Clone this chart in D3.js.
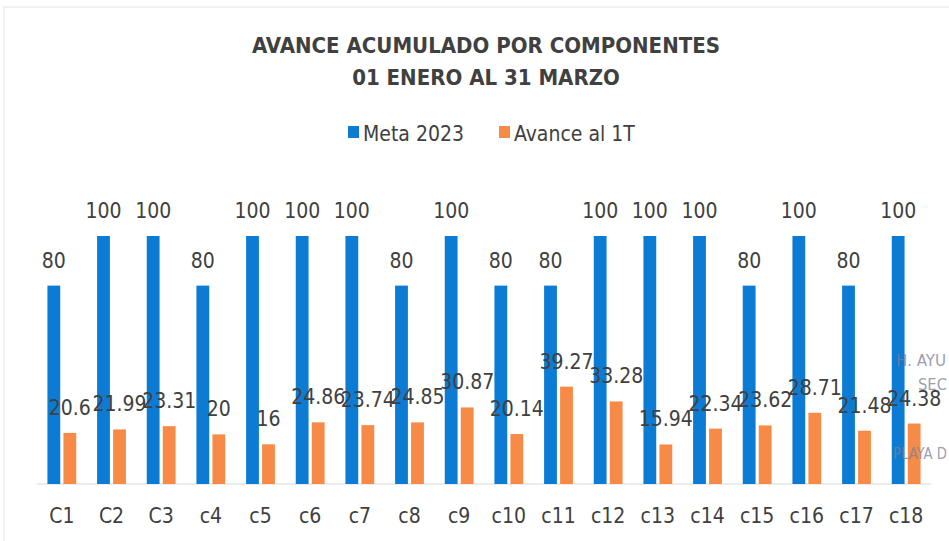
<!DOCTYPE html>
<html>
<head>
<meta charset="utf-8">
<script src="https://cdn.jsdelivr.net/npm/d3@7"></script>
<style>
  body { margin: 0; background: #fff; }
  svg text { font-family: "DejaVu Sans Condensed", "Liberation Sans Narrow", sans-serif; }
</style>
</head>
<body>
<div id="chart"></div>
<script>
// data
var categories = ["C1","C2","C3","c4","c5","c6","c7","c8","c9","c10","c11","c12","c13","c14","c15","c16","c17","c18"]
var meta2023 = [80,100,100,80,100,100,100,80,100,80,80,100,100,100,80,100,80,100]
var avance1T = [20.6,21.99,23.31,20,16,24.86,23.74,24.85,30.87,20.14,39.27,33.28,15.94,22.34,23.62,28.71,21.48,24.38]
var seriesNames = ["Meta 2023", "Avance al 1T"]
var colors = ["#0b7bd3", "#f78a46"]

var width = 949, height = 541

var svg = d3.select("#chart").append("svg")
  .attr("width", width)
  .attr("height", height)

// faint frame of the scanned chart
svg.append("rect")
  .attr("x", 4).attr("y", 7)
  .attr("width", 960).attr("height", 560)
  .attr("fill", "none")
  .attr("stroke", "#e3e3e6")

// title
var title = svg.append("text")
  .attr("text-anchor", "middle")
  .attr("fill", "#404040")
  .style("font-size", "22px")
  .style("font-weight", "bold")
title.append("tspan").attr("x", 486).attr("y", 53).text("AVANCE ACUMULADO POR COMPONENTES")
title.append("tspan").attr("x", 486).attr("y", 85).text("01 ENERO AL 31 MARZO")

// legend
var legend = svg.append("g")
var legendX = [348, 499]
seriesNames.forEach(function (name, i) {
  legend.append("rect")
    .attr("x", legendX[i]).attr("y", 126)
    .attr("width", 11).attr("height", 12)
    .attr("fill", colors[i])
  legend.append("text")
    .attr("x", legendX[i] + 15).attr("y", 141)
    .attr("fill", "#404040")
    .style("font-size", "21px")
    .text(name)
})

// scales
var x = d3.scaleBand()
  .domain(categories)
  .range([37, 931])
  .paddingInner(0.42)
  .paddingOuter(0.21)

var xSub = d3.scaleBand()
  .domain([0, 1])
  .range([0, x.bandwidth()])
  .paddingInner(0.2)

var y = d3.scaleLinear()
  .domain([0, 100])
  .range([484, 236])

// axis baseline
svg.append("line")
  .attr("x1", 37).attr("x2", 931)
  .attr("y1", y(0)).attr("y2", y(0))
  .attr("stroke", "#d9d9d9")

var rows = categories.map(function (c, i) {
  return { cat: c, values: [meta2023[i], avance1T[i]] }
})

var groups = svg.append("g").selectAll("g")
  .data(rows)
  .join("g")
  .attr("transform", d => `translate(${x(d.cat)},0)`)

groups.selectAll("rect")
  .data(d => d.values.map((v, k) => ({ k: k, v: v })))
  .join("rect")
  .attr("x", d => xSub(d.k))
  .attr("y", d => y(d.v))
  .attr("width", xSub.bandwidth())
  .attr("height", d => y(0) - y(d.v))
  .attr("fill", d => colors[d.k])

groups.selectAll("text.val")
  .data(d => d.values.map((v, k) => ({ k: k, v: v })))
  .join("text")
  .attr("class", "val")
  .attr("x", d => xSub(d.k) + xSub.bandwidth() / 2)
  .attr("y", d => y(d.v) - 18)
  .attr("text-anchor", "middle")
  .attr("fill", "#404040")
  .style("font-size", "21px")
  .text(d => d.v)

// category labels
var xAxis = d3.axisBottom(x).tickSize(0).tickPadding(24)
var gx = svg.append("g")
  .attr("transform", `translate(0,${y(0)})`)
  .call(xAxis)
gx.select(".domain").remove()
gx.selectAll("text")
  .attr("fill", "#404040")
  .style("font-size", "21px")
  .style("font-family", "\"DejaVu Sans Condensed\", sans-serif")

// stamp remnants at the right edge of the scan
var stamp = svg.append("g")
  .attr("fill", "#7d8096")
  .attr("opacity", 0.75)
  .style("font-size", "15px")
stamp.append("text").attr("x", 896).attr("y", 366).attr("textLength", 50).attr("lengthAdjust", "spacingAndGlyphs").text("H. AYU")
stamp.append("text").attr("x", 918).attr("y", 390).attr("textLength", 29).attr("lengthAdjust", "spacingAndGlyphs").text("SEC")
stamp.append("text").attr("x", 893).attr("y", 459).attr("textLength", 54).attr("lengthAdjust", "spacingAndGlyphs").text("PLAYA D")
</script>
</body>
</html>
